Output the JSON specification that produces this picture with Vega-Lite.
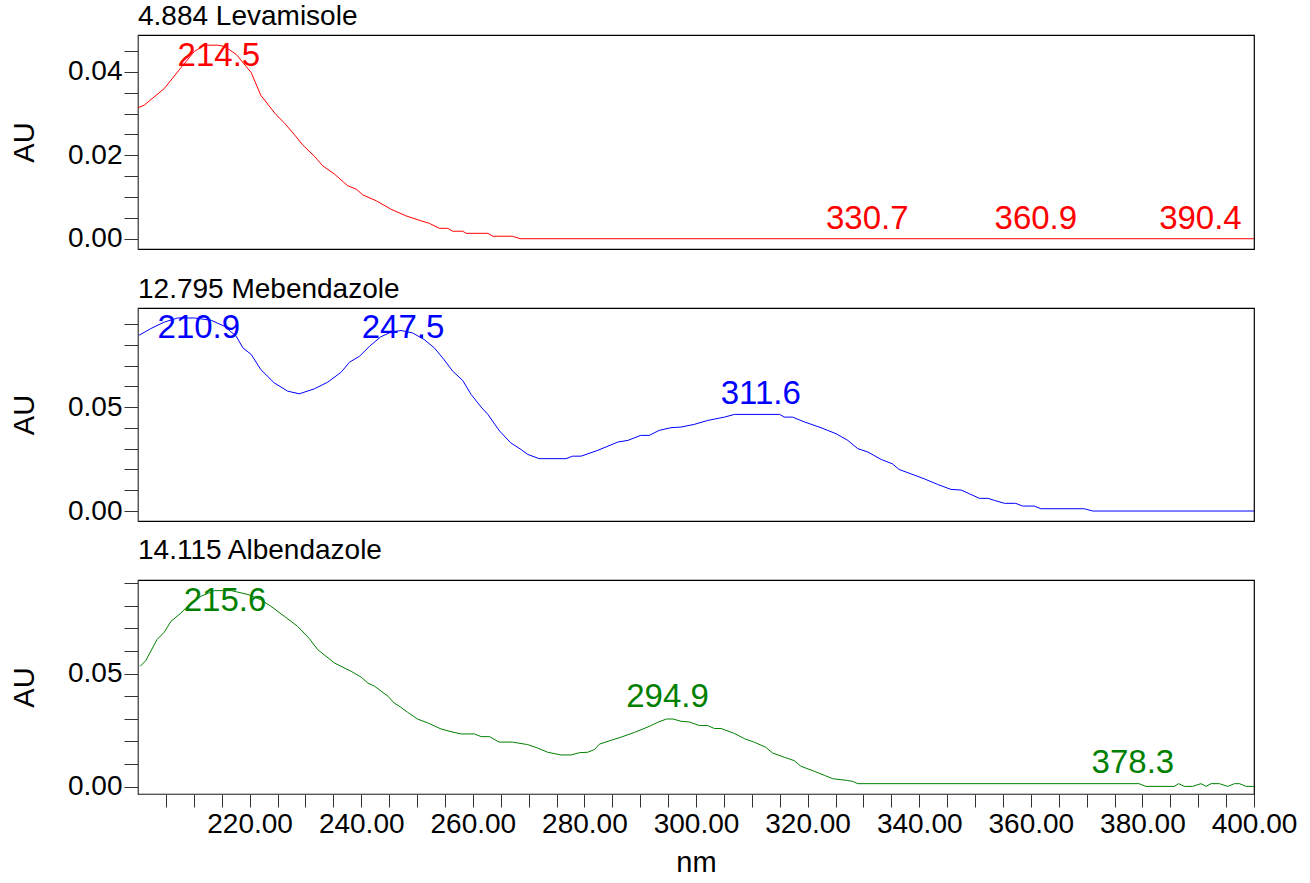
{
  "$schema": "https://vega.github.io/schema/vega-lite/v6.json",
  "padding": {"left": 9, "top": 2, "right": 5, "bottom": 0},
  "background": "white",
  "bounds": "flush",
  "spacing": 59,
  "config": {
    "font": "Liberation Sans",
    "view": {"stroke": "#000000", "strokeWidth": 1.2},
    "title": {"anchor": "start", "frame": "group", "fontSize": 28, "fontWeight": "normal", "color": "#000000", "offset": 0, "baseline": "alphabetic"},
    "axis": {"labelFont": "Liberation Sans", "labelFontSize": 28, "labelColor": "#000000", "titleFont": "Liberation Sans", "titleFontSize": 29, "titleFontWeight": "normal", "titleColor": "#000000", "grid": false, "tickColor": "#333333", "domainColor": "#555555", "labelOverlap": false, "labelBound": false, "labelFlush": false}
  },
  "datasets": {
    "spectra": [
      {"compound": "Levamisole", "nm": 200.0, "au": 0.0314},
      {"compound": "Levamisole", "nm": 201.1, "au": 0.0320},
      {"compound": "Levamisole", "nm": 204.7, "au": 0.0360},
      {"compound": "Levamisole", "nm": 207.7, "au": 0.0410},
      {"compound": "Levamisole", "nm": 210.1, "au": 0.0449},
      {"compound": "Levamisole", "nm": 211.9, "au": 0.0464},
      {"compound": "Levamisole", "nm": 214.3, "au": 0.0464},
      {"compound": "Levamisole", "nm": 215.5, "au": 0.0461},
      {"compound": "Levamisole", "nm": 217.6, "au": 0.0442},
      {"compound": "Levamisole", "nm": 220.3, "au": 0.0398},
      {"compound": "Levamisole", "nm": 222.0, "au": 0.0344},
      {"compound": "Levamisole", "nm": 224.7, "au": 0.0298},
      {"compound": "Levamisole", "nm": 226.2, "au": 0.0278},
      {"compound": "Levamisole", "nm": 228.0, "au": 0.0250},
      {"compound": "Levamisole", "nm": 229.5, "au": 0.0225},
      {"compound": "Levamisole", "nm": 231.6, "au": 0.0198},
      {"compound": "Levamisole", "nm": 233.1, "au": 0.0175},
      {"compound": "Levamisole", "nm": 235.2, "au": 0.0155},
      {"compound": "Levamisole", "nm": 237.6, "au": 0.0127},
      {"compound": "Levamisole", "nm": 239.1, "au": 0.0119},
      {"compound": "Levamisole", "nm": 240.3, "au": 0.0105},
      {"compound": "Levamisole", "nm": 242.7, "au": 0.0091},
      {"compound": "Levamisole", "nm": 245.3, "au": 0.0071},
      {"compound": "Levamisole", "nm": 248.0, "au": 0.0055},
      {"compound": "Levamisole", "nm": 250.7, "au": 0.0043},
      {"compound": "Levamisole", "nm": 252.2, "au": 0.0037},
      {"compound": "Levamisole", "nm": 254.0, "au": 0.0025},
      {"compound": "Levamisole", "nm": 255.5, "au": 0.0025},
      {"compound": "Levamisole", "nm": 256.4, "au": 0.0018},
      {"compound": "Levamisole", "nm": 258.2, "au": 0.0018},
      {"compound": "Levamisole", "nm": 258.8, "au": 0.0013},
      {"compound": "Levamisole", "nm": 262.7, "au": 0.0013},
      {"compound": "Levamisole", "nm": 263.6, "au": 0.0006},
      {"compound": "Levamisole", "nm": 267.1, "au": 0.0006},
      {"compound": "Levamisole", "nm": 268.5, "au": 0.0},
      {"compound": "Levamisole", "nm": 400.0, "au": 0.0},
      {"compound": "Mebendazole", "nm": 200.2, "au": 0.0846},
      {"compound": "Mebendazole", "nm": 202.3, "au": 0.0878},
      {"compound": "Mebendazole", "nm": 204.7, "au": 0.0909},
      {"compound": "Mebendazole", "nm": 207.1, "au": 0.0929},
      {"compound": "Mebendazole", "nm": 210.1, "au": 0.0929},
      {"compound": "Mebendazole", "nm": 213.1, "au": 0.0918},
      {"compound": "Mebendazole", "nm": 215.5, "au": 0.0889},
      {"compound": "Mebendazole", "nm": 217.6, "au": 0.0841},
      {"compound": "Mebendazole", "nm": 218.8, "au": 0.0785},
      {"compound": "Mebendazole", "nm": 220.3, "au": 0.0753},
      {"compound": "Mebendazole", "nm": 222.0, "au": 0.0681},
      {"compound": "Mebendazole", "nm": 224.4, "au": 0.0617},
      {"compound": "Mebendazole", "nm": 226.8, "au": 0.0577},
      {"compound": "Mebendazole", "nm": 228.9, "au": 0.0564},
      {"compound": "Mebendazole", "nm": 231.6, "au": 0.0588},
      {"compound": "Mebendazole", "nm": 234.0, "au": 0.0620},
      {"compound": "Mebendazole", "nm": 236.4, "au": 0.0668},
      {"compound": "Mebendazole", "nm": 237.9, "au": 0.0716},
      {"compound": "Mebendazole", "nm": 239.7, "au": 0.0745},
      {"compound": "Mebendazole", "nm": 241.5, "au": 0.0793},
      {"compound": "Mebendazole", "nm": 243.5, "au": 0.0838},
      {"compound": "Mebendazole", "nm": 245.0, "au": 0.0857},
      {"compound": "Mebendazole", "nm": 247.1, "au": 0.0869},
      {"compound": "Mebendazole", "nm": 249.2, "au": 0.0857},
      {"compound": "Mebendazole", "nm": 251.3, "au": 0.0825},
      {"compound": "Mebendazole", "nm": 253.1, "au": 0.0785},
      {"compound": "Mebendazole", "nm": 254.6, "au": 0.0737},
      {"compound": "Mebendazole", "nm": 256.4, "au": 0.0673},
      {"compound": "Mebendazole", "nm": 258.2, "au": 0.0628},
      {"compound": "Mebendazole", "nm": 259.7, "au": 0.0561},
      {"compound": "Mebendazole", "nm": 261.5, "au": 0.0500},
      {"compound": "Mebendazole", "nm": 262.7, "au": 0.0465},
      {"compound": "Mebendazole", "nm": 264.8, "au": 0.0385},
      {"compound": "Mebendazole", "nm": 266.8, "au": 0.0328},
      {"compound": "Mebendazole", "nm": 268.6, "au": 0.0297},
      {"compound": "Mebendazole", "nm": 269.8, "au": 0.0273},
      {"compound": "Mebendazole", "nm": 271.9, "au": 0.0252},
      {"compound": "Mebendazole", "nm": 276.7, "au": 0.0252},
      {"compound": "Mebendazole", "nm": 277.9, "au": 0.0264},
      {"compound": "Mebendazole", "nm": 279.4, "au": 0.0264},
      {"compound": "Mebendazole", "nm": 282.4, "au": 0.0292},
      {"compound": "Mebendazole", "nm": 286.0, "au": 0.0332},
      {"compound": "Mebendazole", "nm": 287.8, "au": 0.0340},
      {"compound": "Mebendazole", "nm": 290.1, "au": 0.0364},
      {"compound": "Mebendazole", "nm": 291.6, "au": 0.0364},
      {"compound": "Mebendazole", "nm": 293.4, "au": 0.0388},
      {"compound": "Mebendazole", "nm": 295.5, "au": 0.0401},
      {"compound": "Mebendazole", "nm": 297.3, "au": 0.0404},
      {"compound": "Mebendazole", "nm": 299.7, "au": 0.0417},
      {"compound": "Mebendazole", "nm": 302.1, "au": 0.0436},
      {"compound": "Mebendazole", "nm": 305.1, "au": 0.0452},
      {"compound": "Mebendazole", "nm": 306.9, "au": 0.0465},
      {"compound": "Mebendazole", "nm": 315.0, "au": 0.0465},
      {"compound": "Mebendazole", "nm": 315.8, "au": 0.0452},
      {"compound": "Mebendazole", "nm": 317.3, "au": 0.0452},
      {"compound": "Mebendazole", "nm": 319.4, "au": 0.0429},
      {"compound": "Mebendazole", "nm": 322.4, "au": 0.0401},
      {"compound": "Mebendazole", "nm": 325.1, "au": 0.0372},
      {"compound": "Mebendazole", "nm": 327.2, "au": 0.0340},
      {"compound": "Mebendazole", "nm": 329.0, "au": 0.0300},
      {"compound": "Mebendazole", "nm": 330.8, "au": 0.0284},
      {"compound": "Mebendazole", "nm": 333.2, "au": 0.0248},
      {"compound": "Mebendazole", "nm": 335.2, "au": 0.0227},
      {"compound": "Mebendazole", "nm": 336.4, "au": 0.0200},
      {"compound": "Mebendazole", "nm": 339.1, "au": 0.0173},
      {"compound": "Mebendazole", "nm": 340.9, "au": 0.0155},
      {"compound": "Mebendazole", "nm": 343.3, "au": 0.0128},
      {"compound": "Mebendazole", "nm": 345.7, "au": 0.0104},
      {"compound": "Mebendazole", "nm": 347.5, "au": 0.0101},
      {"compound": "Mebendazole", "nm": 349.0, "au": 0.0083},
      {"compound": "Mebendazole", "nm": 350.8, "au": 0.0061},
      {"compound": "Mebendazole", "nm": 352.3, "au": 0.0061},
      {"compound": "Mebendazole", "nm": 353.5, "au": 0.0051},
      {"compound": "Mebendazole", "nm": 355.3, "au": 0.0037},
      {"compound": "Mebendazole", "nm": 357.3, "au": 0.0037},
      {"compound": "Mebendazole", "nm": 358.5, "au": 0.0024},
      {"compound": "Mebendazole", "nm": 360.6, "au": 0.0024},
      {"compound": "Mebendazole", "nm": 361.8, "au": 0.0011},
      {"compound": "Mebendazole", "nm": 369.6, "au": 0.0011},
      {"compound": "Mebendazole", "nm": 371.1, "au": 0.0},
      {"compound": "Mebendazole", "nm": 400.0, "au": 0.0},
      {"compound": "Albendazole", "nm": 200.4, "au": 0.0532},
      {"compound": "Albendazole", "nm": 201.4, "au": 0.0558},
      {"compound": "Albendazole", "nm": 203.4, "au": 0.0650},
      {"compound": "Albendazole", "nm": 204.7, "au": 0.0683},
      {"compound": "Albendazole", "nm": 205.9, "au": 0.0731},
      {"compound": "Albendazole", "nm": 207.7, "au": 0.0768},
      {"compound": "Albendazole", "nm": 208.9, "au": 0.0798},
      {"compound": "Albendazole", "nm": 211.3, "au": 0.0842},
      {"compound": "Albendazole", "nm": 213.7, "au": 0.0867},
      {"compound": "Albendazole", "nm": 216.7, "au": 0.0867},
      {"compound": "Albendazole", "nm": 219.7, "au": 0.0850},
      {"compound": "Albendazole", "nm": 222.0, "au": 0.0827},
      {"compound": "Albendazole", "nm": 223.8, "au": 0.0798},
      {"compound": "Albendazole", "nm": 226.2, "au": 0.0754},
      {"compound": "Albendazole", "nm": 228.6, "au": 0.0709},
      {"compound": "Albendazole", "nm": 230.7, "au": 0.0655},
      {"compound": "Albendazole", "nm": 232.2, "au": 0.0606},
      {"compound": "Albendazole", "nm": 235.2, "au": 0.0547},
      {"compound": "Albendazole", "nm": 238.2, "au": 0.0510},
      {"compound": "Albendazole", "nm": 240.0, "au": 0.0484},
      {"compound": "Albendazole", "nm": 241.2, "au": 0.0458},
      {"compound": "Albendazole", "nm": 242.4, "au": 0.0444},
      {"compound": "Albendazole", "nm": 244.8, "au": 0.0400},
      {"compound": "Albendazole", "nm": 245.9, "au": 0.0370},
      {"compound": "Albendazole", "nm": 247.1, "au": 0.0351},
      {"compound": "Albendazole", "nm": 248.3, "au": 0.0329},
      {"compound": "Albendazole", "nm": 250.1, "au": 0.0299},
      {"compound": "Albendazole", "nm": 251.9, "au": 0.0282},
      {"compound": "Albendazole", "nm": 254.3, "au": 0.0255},
      {"compound": "Albendazole", "nm": 256.1, "au": 0.0243},
      {"compound": "Albendazole", "nm": 257.9, "au": 0.0233},
      {"compound": "Albendazole", "nm": 260.3, "au": 0.0233},
      {"compound": "Albendazole", "nm": 261.5, "au": 0.0221},
      {"compound": "Albendazole", "nm": 263.0, "au": 0.0221},
      {"compound": "Albendazole", "nm": 264.7, "au": 0.0197},
      {"compound": "Albendazole", "nm": 267.1, "au": 0.0197},
      {"compound": "Albendazole", "nm": 269.8, "au": 0.0186},
      {"compound": "Albendazole", "nm": 271.6, "au": 0.0171},
      {"compound": "Albendazole", "nm": 273.4, "au": 0.0152},
      {"compound": "Albendazole", "nm": 275.8, "au": 0.0140},
      {"compound": "Albendazole", "nm": 277.6, "au": 0.0140},
      {"compound": "Albendazole", "nm": 279.1, "au": 0.0150},
      {"compound": "Albendazole", "nm": 280.6, "au": 0.0152},
      {"compound": "Albendazole", "nm": 281.8, "au": 0.0164},
      {"compound": "Albendazole", "nm": 282.7, "au": 0.0188},
      {"compound": "Albendazole", "nm": 284.8, "au": 0.0205},
      {"compound": "Albendazole", "nm": 286.6, "au": 0.0219},
      {"compound": "Albendazole", "nm": 289.0, "au": 0.0240},
      {"compound": "Albendazole", "nm": 291.4, "au": 0.0264},
      {"compound": "Albendazole", "nm": 293.2, "au": 0.0285},
      {"compound": "Albendazole", "nm": 294.7, "au": 0.0299},
      {"compound": "Albendazole", "nm": 295.9, "au": 0.0299},
      {"compound": "Albendazole", "nm": 297.3, "au": 0.0289},
      {"compound": "Albendazole", "nm": 298.8, "au": 0.0286},
      {"compound": "Albendazole", "nm": 300.6, "au": 0.0270},
      {"compound": "Albendazole", "nm": 302.1, "au": 0.0270},
      {"compound": "Albendazole", "nm": 303.3, "au": 0.0257},
      {"compound": "Albendazole", "nm": 304.5, "au": 0.0257},
      {"compound": "Albendazole", "nm": 306.9, "au": 0.0235},
      {"compound": "Albendazole", "nm": 308.7, "au": 0.0212},
      {"compound": "Albendazole", "nm": 310.5, "au": 0.0196},
      {"compound": "Albendazole", "nm": 312.5, "au": 0.0174},
      {"compound": "Albendazole", "nm": 313.7, "au": 0.0149},
      {"compound": "Albendazole", "nm": 315.8, "au": 0.0130},
      {"compound": "Albendazole", "nm": 317.6, "au": 0.0115},
      {"compound": "Albendazole", "nm": 318.8, "au": 0.0090},
      {"compound": "Albendazole", "nm": 321.2, "au": 0.0068},
      {"compound": "Albendazole", "nm": 323.0, "au": 0.0050},
      {"compound": "Albendazole", "nm": 324.5, "au": 0.0035},
      {"compound": "Albendazole", "nm": 327.2, "au": 0.0027},
      {"compound": "Albendazole", "nm": 328.1, "au": 0.0023},
      {"compound": "Albendazole", "nm": 329.0, "au": 0.0013},
      {"compound": "Albendazole", "nm": 379.4, "au": 0.0013},
      {"compound": "Albendazole", "nm": 380.6, "au": 0.0001},
      {"compound": "Albendazole", "nm": 385.7, "au": 0.0001},
      {"compound": "Albendazole", "nm": 386.5, "au": 0.0013},
      {"compound": "Albendazole", "nm": 387.5, "au": 0.0001},
      {"compound": "Albendazole", "nm": 389.0, "au": 0.0001},
      {"compound": "Albendazole", "nm": 390.5, "au": 0.0013},
      {"compound": "Albendazole", "nm": 391.4, "au": 0.0001},
      {"compound": "Albendazole", "nm": 392.3, "au": 0.0013},
      {"compound": "Albendazole", "nm": 393.8, "au": 0.0013},
      {"compound": "Albendazole", "nm": 395.3, "au": 0.0001},
      {"compound": "Albendazole", "nm": 396.5, "au": 0.0013},
      {"compound": "Albendazole", "nm": 397.4, "au": 0.0013},
      {"compound": "Albendazole", "nm": 398.6, "au": 0.0001},
      {"compound": "Albendazole", "nm": 400.0, "au": 0.0001}
    ],
    "peaks": [
      {"compound": "Levamisole", "nm": 214.5, "au": 0.0414, "label": "214.5"},
      {"compound": "Levamisole", "nm": 330.7, "au": 0.0024, "label": "330.7"},
      {"compound": "Levamisole", "nm": 360.9, "au": 0.0024, "label": "360.9"},
      {"compound": "Levamisole", "nm": 390.4, "au": 0.0024, "label": "390.4"},
      {"compound": "Mebendazole", "nm": 210.9, "au": 0.0833, "label": "210.9"},
      {"compound": "Mebendazole", "nm": 247.5, "au": 0.0833, "label": "247.5"},
      {"compound": "Mebendazole", "nm": 311.6, "au": 0.0513, "label": "311.6"},
      {"compound": "Albendazole", "nm": 215.6, "au": 0.0776, "label": "215.6"},
      {"compound": "Albendazole", "nm": 294.9, "au": 0.0352, "label": "294.9"},
      {"compound": "Albendazole", "nm": 378.3, "au": 0.0060, "label": "378.3"}
    ]
  },
  "vconcat": [
    {
      "title": {"text": "4.884 Levamisole"},
      "width": 1116,
      "height": 214,
      "encoding": {
        "x": {"field": "nm", "type": "quantitative", "scale": {"domain": [200, 400], "nice": false, "zero": false}, "axis": null},
        "y": {"field": "au", "type": "quantitative", "scale": {"domain": [-0.00246, 0.04884], "nice": false, "zero": false},
          "axis": {"title": "AU", "values": [0, 0.005, 0.01, 0.015, 0.02, 0.025, 0.03, 0.035, 0.04, 0.045], "tickSize": 14, "labelPadding": 2, "titlePadding": 28,
            "labelExpr": "round(datum.value*1000) % 20 === 0 ? format(datum.value, '.2f') : ''",
            "encode": {"ticks": {"x2": {"condition": {"test": "round(datum.value*1000) % 20 === 0", "value": -14}, "value": -7}}}}}
      },
      "layer": [
        {"data": {"name": "spectra"}, "transform": [{"filter": "datum.compound === 'Levamisole'"}], "mark": {"type": "line", "color": "#ff0000", "strokeWidth": 1}},
        {"data": {"name": "peaks"}, "transform": [{"filter": "datum.compound === 'Levamisole'"}], "mark": {"type": "text", "color": "#ff0000", "fontSize": 33, "align": "center", "baseline": "alphabetic", "font": "Liberation Sans"}, "encoding": {"text": {"field": "label", "type": "nominal"}}}
      ]
    },
    {
      "title": {"text": "12.795 Mebendazole"},
      "width": 1116,
      "height": 213,
      "encoding": {
        "x": {"field": "nm", "type": "quantitative", "scale": {"domain": [200, 400], "nice": false, "zero": false}, "axis": null},
        "y": {"field": "au", "type": "quantitative", "scale": {"domain": [-0.0048, 0.0977], "nice": false, "zero": false},
          "axis": {"title": "AU", "values": [0, 0.01, 0.02, 0.03, 0.04, 0.05, 0.06, 0.07, 0.08, 0.09], "tickSize": 14, "labelPadding": 2, "titlePadding": 28,
            "labelExpr": "round(datum.value*100) % 5 === 0 ? format(datum.value, '.2f') : ''",
            "encode": {"ticks": {"x2": {"condition": {"test": "round(datum.value*100) % 5 === 0", "value": -14}, "value": -7}}}}}
      },
      "layer": [
        {"data": {"name": "spectra"}, "transform": [{"filter": "datum.compound === 'Mebendazole'"}], "mark": {"type": "line", "color": "#0000ff", "strokeWidth": 1}},
        {"data": {"name": "peaks"}, "transform": [{"filter": "datum.compound === 'Mebendazole'"}], "mark": {"type": "text", "color": "#0000ff", "fontSize": 33, "align": "center", "baseline": "alphabetic", "font": "Liberation Sans"}, "encoding": {"text": {"field": "label", "type": "nominal"}}}
      ]
    },
    {
      "title": {"text": "14.115 Albendazole"},
      "width": 1116,
      "height": 214,
      "encoding": {
        "x": {"field": "nm", "type": "quantitative", "scale": {"domain": [200, 400], "nice": false, "zero": false},
          "axis": {"title": "nm", "values": [205, 210, 215, 220, 225, 230, 235, 240, 245, 250, 255, 260, 265, 270, 275, 280, 285, 290, 295, 300, 305, 310, 315, 320, 325, 330, 335, 340, 345, 350, 355, 360, 365, 370, 375, 380, 385, 390, 395, 400],
            "tickSize": 13, "labelPadding": 3, "titlePadding": 10,
            "labelExpr": "datum.value % 20 === 0 ? format(datum.value, '.2f') : ''",
            "encode": {"ticks": {"y2": {"condition": {"test": "datum.value % 20 === 0", "value": 13}, "value": 8}}}}},
        "y": {"field": "au", "type": "quantitative", "scale": {"domain": [-0.00327, 0.0914], "nice": false, "zero": false},
          "axis": {"title": "AU", "values": [0, 0.01, 0.02, 0.03, 0.04, 0.05, 0.06, 0.07, 0.08, 0.09], "tickSize": 14, "labelPadding": 2, "titlePadding": 28,
            "labelExpr": "round(datum.value*100) % 5 === 0 ? format(datum.value, '.2f') : ''",
            "encode": {"ticks": {"x2": {"condition": {"test": "round(datum.value*100) % 5 === 0", "value": -14}, "value": -7}}}}}
      },
      "layer": [
        {"data": {"name": "spectra"}, "transform": [{"filter": "datum.compound === 'Albendazole'"}], "mark": {"type": "line", "color": "#008000", "strokeWidth": 1}},
        {"data": {"name": "peaks"}, "transform": [{"filter": "datum.compound === 'Albendazole'"}], "mark": {"type": "text", "color": "#008000", "fontSize": 33, "align": "center", "baseline": "alphabetic", "font": "Liberation Sans"}, "encoding": {"text": {"field": "label", "type": "nominal"}}}
      ]
    }
  ]
}
